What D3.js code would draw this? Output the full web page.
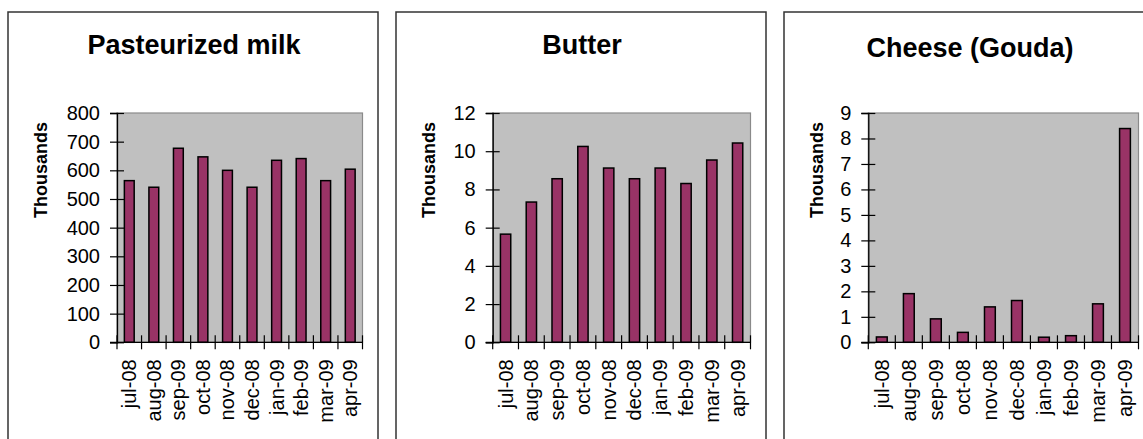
<!DOCTYPE html>
<html>
<head>
<meta charset="utf-8">
<script src="https://cdn.jsdelivr.net/npm/d3@7"></script>
<style>
  html, body { margin: 0; padding: 0; background: #fff; }
  svg { display: block; }
  text { font-family: "Liberation Sans", Arial, sans-serif; fill: #000; }
</style>
</head>
<body>
<svg id="chart" width="1143" height="439"></svg>
<script>
// Months shown on each category axis (as printed on the source sheet)
const months = ["jul-08", "aug-08", "sep-09", "oct-08", "nov-08", "dec-08", "jan-09", "feb-09", "mar-09", "apr-09"];

// Monthly volumes, in thousands
const milkValues   = [564, 541, 677, 647, 600, 541, 635, 641, 564, 604];
const butterValues = [5.66, 7.34, 8.56, 10.25, 9.12, 8.56, 9.12, 8.31, 9.54, 10.43];
const cheeseValues = [0.21, 1.91, 0.92, 0.39, 1.39, 1.64, 0.20, 0.26, 1.51, 8.39];

// Value-axis tick labels for each panel
const milkTicks   = [0, 100, 200, 300, 400, 500, 600, 700, 800];
const butterTicks = [0, 2, 4, 6, 8, 10, 12];
const cheeseTicks = [0, 1, 2, 3, 4, 5, 6, 7, 8, 9];

const titles = ["Pasteurized milk", "Butter", "Cheese (Gouda)"];
const unitLabel = "Thousands";

// Panel layout (left edge of frame, plot-area left inset, title baseline)
const layout = [
  { x: 8,   plotLeft: 109,  titleY: 53.5 },
  { x: 396, plotLeft: 96.7, titleY: 54 },
  { x: 784, plotLeft: 84.3, titleY: 57 }
];

const panels = [
  { title: titles[0], values: milkValues,   ticks: milkTicks },
  { title: titles[1], values: butterValues, ticks: butterTicks },
  { title: titles[2], values: cheeseValues, ticks: cheeseTicks }
];

const svg = d3.select("#chart");
const panelW = 370, panelTop = 12, panelH = 440;
const plotTop = 113, plotBottom = 342.3, plotRightInset = 354.5;
const barColor = "#993366";

panels.forEach((p, i) => {
  const L = layout[i];
  const g = svg.append("g").attr("transform", `translate(${L.x},0)`);

  // frame around the chart object
  g.append("rect")
    .attr("x", 0).attr("y", panelTop)
    .attr("width", panelW).attr("height", panelH)
    .attr("fill", "#fff").attr("stroke", "#333").attr("stroke-width", 1.5);

  const x0 = L.plotLeft, x1 = plotRightInset;
  const x = d3.scaleBand().domain(months).range([x0, x1]).paddingInner(0.6).paddingOuter(0.3);
  const xb = d3.scaleBand().domain(months).range([x0, x1]);
  const y = d3.scaleLinear().domain([0, d3.max(p.ticks)]).range([plotBottom, plotTop]);

  // plot area
  g.append("rect")
    .attr("x", x0).attr("y", plotTop)
    .attr("width", x1 - x0).attr("height", plotBottom - plotTop)
    .attr("fill", "#c0c0c0").attr("stroke", "#8a8a8a").attr("stroke-width", 1.2);

  // bars
  g.append("g").selectAll("rect")
    .data(p.values)
    .join("rect")
    .attr("x", (d, k) => x(months[k]))
    .attr("y", d => y(d))
    .attr("width", x.bandwidth())
    .attr("height", d => y(0) - y(d))
    .attr("fill", barColor)
    .attr("stroke", "#000").attr("stroke-width", 1.5);

  // value axis with cross tick marks
  const yAxis = g.append("g").attr("transform", `translate(${x0},0)`)
    .call(d3.axisLeft(y).tickValues(p.ticks).tickSize(7).tickPadding(10).tickFormat(d3.format("d")));
  yAxis.select(".domain").attr("stroke", "#000").attr("stroke-width", 1.3);
  yAxis.selectAll(".tick line").attr("x2", 7).attr("x1", -7).attr("stroke", "#000").attr("stroke-width", 1.2);
  yAxis.selectAll(".tick text")
    .style("font-family", "'Liberation Sans', Arial, sans-serif")
    .style("font-size", "20px").attr("fill", "#000")
    .attr("x", -17);

  // category axis: line at zero with cross ticks on category boundaries
  const bounds = months.map(m => xb(m)).concat([x1]);
  g.append("line")
    .attr("x1", x0 - 7).attr("x2", x1).attr("y1", y(0)).attr("y2", y(0))
    .attr("stroke", "#000").attr("stroke-width", 1.3);
  g.append("g").selectAll("line")
    .data(bounds)
    .join("line")
    .attr("x1", d => d).attr("x2", d => d)
    .attr("y1", y(0) - 7).attr("y2", y(0) + 7)
    .attr("stroke", "#000").attr("stroke-width", 1.2);

  // rotated month labels
  g.append("g").selectAll("text")
    .data(months)
    .join("text")
    .attr("transform", m => `translate(${xb(m) + xb.bandwidth() / 2},${y(0) + 17}) rotate(-90)`)
    .attr("text-anchor", "end")
    .attr("dy", "0.35em")
    .style("font-size", "20px")
    .text(m => m);

  // display-units label
  g.append("text")
    .attr("transform", `translate(33,170) rotate(-90)`)
    .attr("text-anchor", "middle")
    .attr("dy", "0.35em")
    .style("font-size", "18px").style("font-weight", "bold")
    .text(unitLabel);

  // chart title
  g.append("text")
    .attr("x", 186).attr("y", L.titleY)
    .attr("text-anchor", "middle")
    .style("font-size", "27px").style("font-weight", "bold")
    .text(p.title);
});
</script>
</body>
</html>
